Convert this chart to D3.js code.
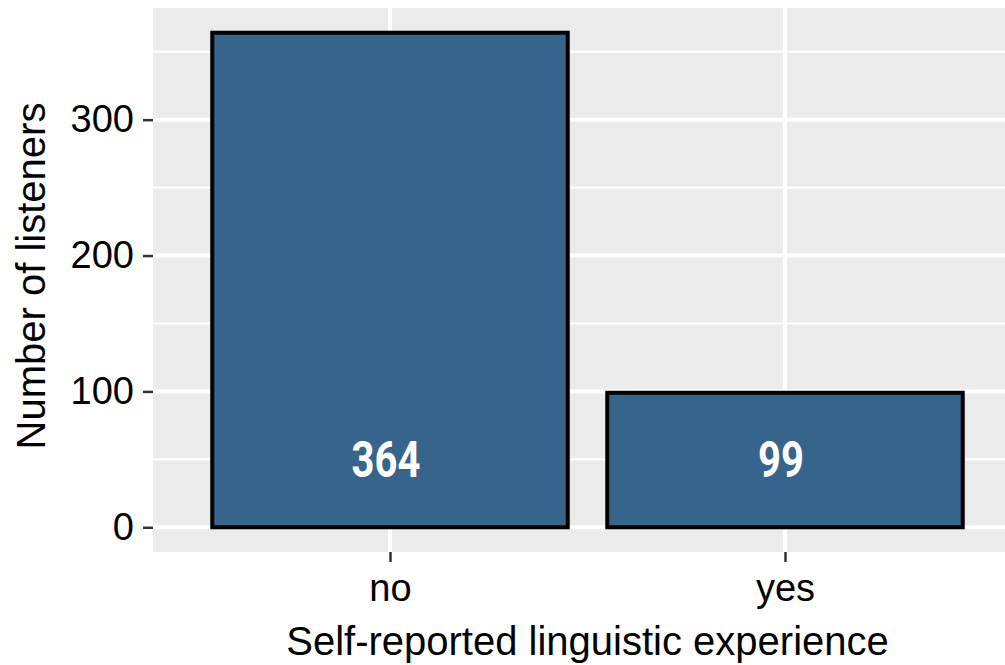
<!DOCTYPE html>
<html>
<head>
<meta charset="utf-8">
<script src="https://cdn.jsdelivr.net/npm/d3@7"></script>
<style>
  body { margin: 0; background: #fff; }
  text { font-family: "Liberation Sans", Arial, sans-serif; }
</style>
</head>
<body>
<div id="chart"></div>
<script>
// datos
const categories = ['no', 'yes'];
const counts = [364, 99];
const yTicks = [0, 100, 200, 300];
const yMinor = [50, 150, 250, 350];
const xTitle = 'Self-reported linguistic experience';
const yTitle = 'Number of listeners';

const W = 1005, H = 665;
const panel = {left: 153, top: 8, right: 1022, bottom: 552};

const svg = d3.select('#chart').append('svg')
    .attr('width', W)
    .attr('height', H);

// escalas (expansion tipo ggplot)
const yMax = d3.max(counts);
const y = d3.scaleLinear()
    .domain([-yMax * 0.05, yMax * 1.05])
    .range([panel.bottom, panel.top]);

const x = d3.scaleLinear()
    .domain([0.4, categories.length + 0.6])
    .range([panel.left, panel.right]);

const pos = function(d) { return categories.indexOf(d) + 1; };

// fondo del panel
svg.append('rect')
    .attr('x', panel.left)
    .attr('y', panel.top)
    .attr('width', panel.right - panel.left)
    .attr('height', panel.bottom - panel.top)
    .attr('fill', '#EBEBEB');

// rejilla
svg.append('g').selectAll('line')
    .data(yMinor)
    .enter().append('line')
    .attr('x1', panel.left).attr('x2', panel.right)
    .attr('y1', d => y(d)).attr('y2', d => y(d))
    .attr('stroke', '#fff').attr('stroke-width', 2.2);

svg.append('g').selectAll('line')
    .data(yTicks)
    .enter().append('line')
    .attr('x1', panel.left).attr('x2', panel.right)
    .attr('y1', d => y(d)).attr('y2', d => y(d))
    .attr('stroke', '#fff').attr('stroke-width', 4);

svg.append('g').selectAll('line')
    .data(categories)
    .enter().append('line')
    .attr('x1', d => x(pos(d))).attr('x2', d => x(pos(d)))
    .attr('y1', panel.top).attr('y2', panel.bottom)
    .attr('stroke', '#fff').attr('stroke-width', 4);

// barras
const barW = x(0.9) - x(0);
svg.append('g').selectAll('rect')
    .data(categories)
    .enter().append('rect')
    .attr('x', d => x(pos(d)) - barW / 2)
    .attr('width', barW)
    .attr('y', (d, i) => y(counts[i]))
    .attr('height', (d, i) => y(0) - y(counts[i]))
    .attr('fill', '#37648A')
    .attr('stroke', '#000')
    .attr('stroke-width', 4);

// etiquetas de valores (fuente condensada)
svg.append('g').selectAll('text')
    .data(categories)
    .enter().append('text')
    .attr('transform', d => 'translate(' + (x(pos(d)) - 4) + ',' + y(50) + ') scale(0.8,1)')
    .attr('dy', '0.355em')
    .attr('text-anchor', 'middle')
    .style('font-family', 'Roboto, "DejaVu Sans Condensed", sans-serif')
    .style('font-weight', 'bold')
    .style('font-size', '50px')
    .attr('fill', '#fff')
    .text((d, i) => counts[i]);

// eje y
const yAxis = svg.append('g')
    .attr('transform', 'translate(' + panel.left + ',0)')
    .call(d3.axisLeft(y).tickValues(yTicks).tickSize(10).tickPadding(9));
yAxis.select('.domain').remove();
yAxis.selectAll('.tick line').attr('stroke', '#333').attr('stroke-width', 2.5);
yAxis.selectAll('.tick text')
    .attr('fill', '#000')
    .style('font-size', '38px')
    .style('font-family', '"Liberation Sans", Arial, sans-serif');

// eje x
const xAxis = svg.append('g')
    .attr('transform', 'translate(0,' + panel.bottom + ')')
    .call(d3.axisBottom(x).tickValues(categories.map(pos))
        .tickFormat(d => categories[d - 1]).tickSize(10).tickPadding(12));
xAxis.select('.domain').remove();
xAxis.selectAll('.tick line').attr('stroke', '#333').attr('stroke-width', 2.5);
xAxis.selectAll('.tick text')
    .attr('fill', '#000')
    .style('font-size', '38px')
    .style('font-family', '"Liberation Sans", Arial, sans-serif');

// titulos
svg.append('text')
    .attr('x', (panel.left + panel.right) / 2)
    .attr('y', 655)
    .attr('text-anchor', 'middle')
    .style('font-size', '40px')
    .text(xTitle);

svg.append('text')
    .attr('transform', 'translate(45,276) rotate(-90)')
    .attr('text-anchor', 'middle')
    .style('font-size', '40px')
    .text(yTitle);
</script>
</body>
</html>
